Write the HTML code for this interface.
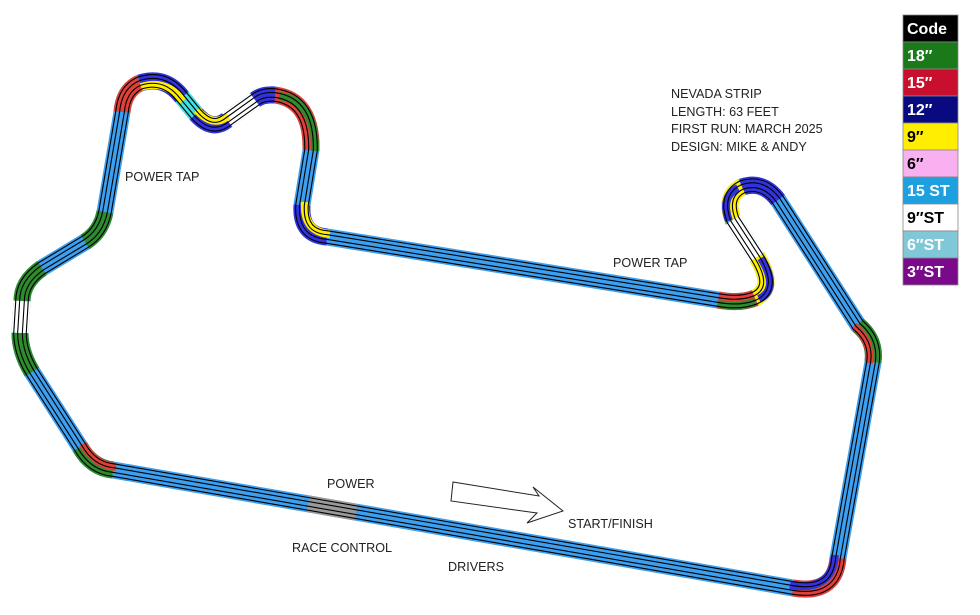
<!DOCTYPE html>
<html><head><meta charset="utf-8"><style>
html,body{margin:0;padding:0;background:#fff;width:980px;height:615px;overflow:hidden}
svg{display:block}
.t{font-family:"Liberation Sans",sans-serif;font-size:12.6px;fill:#222}
.lg{font-family:"Liberation Sans",sans-serif;font-size:16px;font-weight:bold}
</style></head><body>
<svg width="980" height="615" viewBox="0 0 980 615" xmlns="http://www.w3.org/2000/svg">
<defs>
<path id="trk" d="M113,470 L793,588 Q835,595 838,558 L873,362 Q876,340 858,325 L778,200 Q763,180 742,187 Q724,196 733,220 L757,257 Q776,288 755,298 Q740,304 718,300 L327,237 Q300,235 302,205 L311,150 Q312,100 275,95 Q262,94 255,100 L227,120 Q212,132 196,114 L182,97 Q165,75 140,83 Q124,90 122,112 L105,212 Q101,232 85,242 L42,268 Q22,282 22,301 L20,333 Q20,352 32,372 L80,447 Q92,468 113,470 Z" fill="none"/>
<mask id="lines" maskUnits="userSpaceOnUse" x="0" y="0" width="980" height="615">
<rect width="980" height="615" fill="black"/>
<use href="#trk" stroke="white" stroke-width="13.6"/>
<use href="#trk" stroke="black" stroke-width="11.4"/>
<use href="#trk" stroke="white" stroke-width="5.8"/>
<use href="#trk" stroke="black" stroke-width="3.6"/>
</mask>
</defs>
<use href="#trk" stroke="#3d9ff0" stroke-width="17"/>
<g fill="none" stroke-width="17">
<path d="M80,447 Q92,468 113,470" stroke="#2e8b2e"/>
<path d="M793,588 Q835,595 838,558" stroke="#e0403a"/>
<path d="M873,362 Q876,340 858,325" stroke="#2e8b2e"/>
<path d="M778,200 Q763,180 742,187" stroke="#3333dd"/>
<path d="M742,187 Q724,196 733,220" stroke="#ffee00"/>
<path d="M733,220 L757,257" stroke="#ffffff"/>
<path d="M757,257 Q776,288 755,298" stroke="#ffee00"/>
<path d="M755,298 Q740,304 718,300" stroke="#e0403a"/>
<path d="M327,237 Q300,235 302,205" stroke="#3333dd"/>
<path d="M311,150 Q312,100 275,95" stroke="#e0403a"/>
<path d="M275,95 Q262,94 255,100" stroke="#3333dd"/>
<path d="M255,100 L227,120" stroke="#ffffff"/>
<path d="M227,120 Q212,132 196,114" stroke="#3333dd"/>
<path d="M196,114 L182,97" stroke="#40e0e0"/>
<path d="M182,97 Q165,75 140,83" stroke="#3333dd"/>
<path d="M140,83 Q124,90 122,112" stroke="#e0403a"/>
<path d="M105,212 Q101,232 85,242" stroke="#2e8b2e"/>
<path d="M42,268 Q22,282 22,301" stroke="#2e8b2e"/>
<path d="M22,301 L20,333" stroke="#ffffff"/>
<path d="M20,333 Q20,352 32,372" stroke="#2e8b2e"/>
<path d="M308,503.8 L356,512.2" stroke="#999"/>
</g>
<g fill="none" stroke-width="8">
<path d="M742,187 Q724,196 733,220" stroke="#3333dd" transform="translate(-4,1)"/>
<path d="M757,257 Q776,288 755,298" stroke="#3333dd" transform="translate(4,1)"/>
<path d="M755,298 Q740,304 718,300" stroke="#2e8b2e" transform="translate(0,4)"/>
<path d="M311,150 Q312,100 275,95" stroke="#2e8b2e" transform="translate(4,1)"/>
<path d="M227,120 Q212,132 196,114" stroke="#ffee00" transform="translate(1,-4)"/>
<path d="M182,97 Q165,75 140,83" stroke="#ffee00" transform="translate(1,4)"/>
<path d="M327,237 Q300,235 302,205" stroke="#ffee00" transform="translate(3,-3)"/>
<path d="M793,588 Q835,595 838,558" stroke="#3333dd" transform="translate(-3,-3)"/>
<path d="M80,447 Q92,468 113,470" stroke="#e0403a" transform="translate(3,-3)"/>
<path d="M873,362 Q876,340 858,325" stroke="#e0403a" transform="translate(-4,1)"/>
</g>
<use href="#trk" stroke="#000" stroke-width="17" mask="url(#lines)"/>

<polygon points="453,482 539,496 533,487 563,511 527,523 537,513 451,501" fill="#fff" stroke="#222" stroke-width="1"/>

<text class="t" x="125" y="181">POWER TAP</text>
<text class="t" x="613" y="267">POWER TAP</text>
<text class="t" x="671" y="98">NEVADA STRIP</text>
<text class="t" x="671" y="116">LENGTH:  63 FEET</text>
<text class="t" x="671" y="133">FIRST RUN: MARCH 2025</text>
<text class="t" x="671" y="151">DESIGN: MIKE &amp; ANDY</text>
<text class="t" x="327" y="488">POWER</text>
<text class="t" x="292" y="552">RACE CONTROL</text>
<text class="t" x="448" y="571">DRIVERS</text>
<text class="t" x="568" y="528">START/FINISH</text>

<g stroke="#888" stroke-width="0.8">
<rect x="903" y="15" width="55" height="27" fill="#000"/>
<rect x="903" y="42" width="55" height="27" fill="#1a7a1a"/>
<rect x="903" y="69" width="55" height="27" fill="#c8102e"/>
<rect x="903" y="96" width="55" height="27" fill="#0a0a80"/>
<rect x="903" y="123" width="55" height="27" fill="#ffee00"/>
<rect x="903" y="150" width="55" height="27" fill="#f8b0f0"/>
<rect x="903" y="177" width="55" height="27" fill="#1ea0e0"/>
<rect x="903" y="204" width="55" height="27" fill="#ffffff"/>
<rect x="903" y="231" width="55" height="27" fill="#80c8d8"/>
<rect x="903" y="258" width="55" height="27" fill="#7a0a8a"/>
</g>
<text class="lg" x="907" y="34" fill="#fff">Code</text>
<text class="lg" x="907" y="61" fill="#fff">18″</text>
<text class="lg" x="907" y="88" fill="#fff">15″</text>
<text class="lg" x="907" y="115" fill="#fff">12″</text>
<text class="lg" x="907" y="142" fill="#000">9″</text>
<text class="lg" x="907" y="169" fill="#000">6″</text>
<text class="lg" x="907" y="196" fill="#fff">15 ST</text>
<text class="lg" x="907" y="223" fill="#000">9″ST</text>
<text class="lg" x="907" y="250" fill="#fff">6″ST</text>
<text class="lg" x="907" y="277" fill="#fff">3″ST</text>
</svg>
</body></html>
